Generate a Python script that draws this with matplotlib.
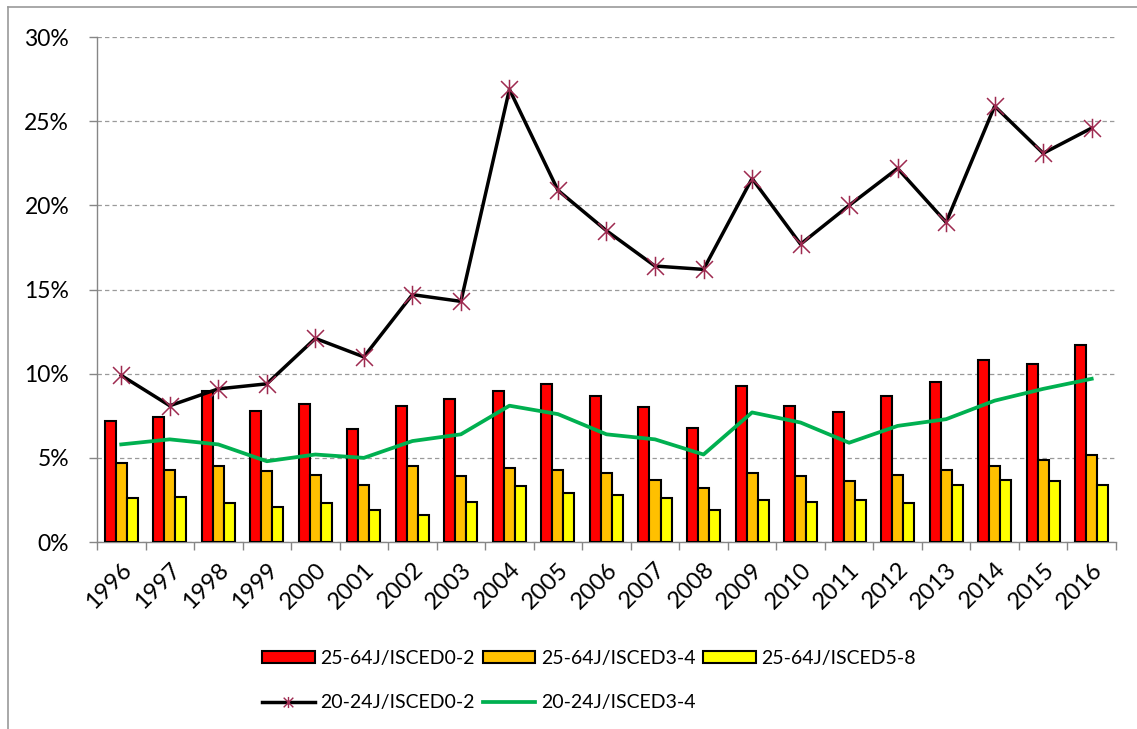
import matplotlib
matplotlib.use('Agg')
import matplotlib.pyplot as plt
from matplotlib.path import Path
from matplotlib.lines import Line2D
from matplotlib.ticker import FixedLocator, PercentFormatter
import numpy as np

plt.rcParams['font.family'] = ['Lato', 'DejaVu Sans']

years = [str(y) for y in range(1996, 2017)]

# 25-64 year olds, bars (percent)
adult_isced02 = [7.2, 7.4, 9.0, 7.8, 8.2, 6.7, 8.1, 8.5, 9.0, 9.4, 8.7,
                 8.0, 6.8, 9.3, 8.1, 7.7, 8.7, 9.5, 10.8, 10.6, 11.7]
adult_isced34 = [4.7, 4.3, 4.5, 4.2, 4.0, 3.4, 4.5, 3.9, 4.4, 4.3, 4.1,
                 3.7, 3.2, 4.1, 3.9, 3.6, 4.0, 4.3, 4.5, 4.9, 5.2]
adult_isced58 = [2.6, 2.7, 2.3, 2.1, 2.3, 1.9, 1.6, 2.4, 3.3, 2.9, 2.8,
                 2.6, 1.9, 2.5, 2.4, 2.5, 2.3, 3.4, 3.7, 3.6, 3.4]

# 20-24 year olds, lines (percent)
young_isced02 = [9.9, 8.1, 9.1, 9.4, 12.1, 11.0, 14.7, 14.3, 26.9, 20.9, 18.5,
                 16.4, 16.2, 21.6, 17.7, 20.0, 22.2, 19.0, 25.9, 23.1, 24.6]
young_isced34 = [5.8, 6.1, 5.8, 4.8, 5.2, 5.0, 6.0, 6.4, 8.1, 7.6, 6.4,
                 6.1, 5.2, 7.7, 7.1, 5.9, 6.9, 7.3, 8.4, 9.1, 9.7]

labels = ['25-64J/ISCED0-2', '25-64J/ISCED3-4', '25-64J/ISCED5-8',
          '20-24J/ISCED0-2', '20-24J/ISCED3-4']

fig = plt.figure(figsize=(11.37, 7.29), dpi=100)
ax = fig.add_axes([0.0853, 0.2565, 0.8962, 0.6925])

x = np.arange(len(years))
w = 0.227
b1 = ax.bar(x - w, adult_isced02, w, color='#FF0000', edgecolor='black', linewidth=1.5, zorder=3)
b2 = ax.bar(x, adult_isced34, w, color='#FFC000', edgecolor='black', linewidth=1.5, zorder=3)
b3 = ax.bar(x + w, adult_isced58, w, color='#FFFF00', edgecolor='black', linewidth=1.5, zorder=3)

# excel style star marker: an x with a vertical bar
star = Path([(-1, -1), (1, 1), (-1, 1), (1, -1), (0, -1.15), (0, 1.15)],
            [Path.MOVETO, Path.LINETO, Path.MOVETO, Path.LINETO, Path.MOVETO, Path.LINETO])

ax.plot(x, young_isced02, color='black', linewidth=2.5, marker=star,
        markersize=14, markerfacecolor='none', markeredgecolor='#9E2A50',
        markeredgewidth=1.1, zorder=4)
ax.plot(x, young_isced34, color='#00B050', linewidth=2.7, zorder=4)

# legend proxies (the legend shows a smaller star)
l1 = Line2D([], [], color='black', linewidth=2.5, marker=star, markersize=8,
            markerfacecolor='none', markeredgecolor='#9E2A50', markeredgewidth=1.0)
l2 = Line2D([], [], color='#00B050', linewidth=2.7)

ax.set_xlim(-0.5, len(years) - 0.5)
ax.set_ylim(0, 30)
ax.yaxis.set_major_locator(FixedLocator([0, 5, 10, 15, 20, 25, 30]))
ax.yaxis.set_major_formatter(PercentFormatter(decimals=0))
ax.grid(axis='y', color='#9A9A9A', linestyle=(0, (3.5, 2.5)), linewidth=0.9, zorder=0)

ax.set_xticks(x)
ax.set_xticklabels(years, rotation=45, ha='right', rotation_mode='anchor')
ax.set_xticks(np.arange(-0.5, len(years), 1), minor=True)
ax.tick_params(axis='x', which='major', length=0, pad=12, labelsize=17)
ax.tick_params(axis='x', which='minor', length=6, color='#868686', width=1)
ax.tick_params(axis='y', length=6, color='#868686', width=1, pad=14, labelsize=16.5)

for s in ['top', 'right']:
    ax.spines[s].set_visible(False)
for s in ['left', 'bottom']:
    ax.spines[s].set_color('#868686')
    ax.spines[s].set_linewidth(1.0)

# chart area border (only top and left visible in the crop)
fig.add_artist(Line2D([8 / 1137, 8 / 1137], [0, 1 - 7 / 729], color='#9A9A9A', linewidth=1.2))
fig.add_artist(Line2D([8 / 1137, 1], [1 - 7 / 729, 1 - 7 / 729], color='#9A9A9A', linewidth=1.2))

fig.legend([b1, l1, b2, l2, b3], [labels[0], labels[3], labels[1], labels[4], labels[2]],
           ncol=3, loc='upper left', bbox_to_anchor=(262 / 1137, 1 - 650 / 729),
           frameon=False, fontsize=14, handlelength=2.7, handleheight=0.6,
           handletextpad=0.3, columnspacing=0.4, labelspacing=1.4,
           borderpad=0, borderaxespad=0)

fig.savefig('out.png', dpi=100)
